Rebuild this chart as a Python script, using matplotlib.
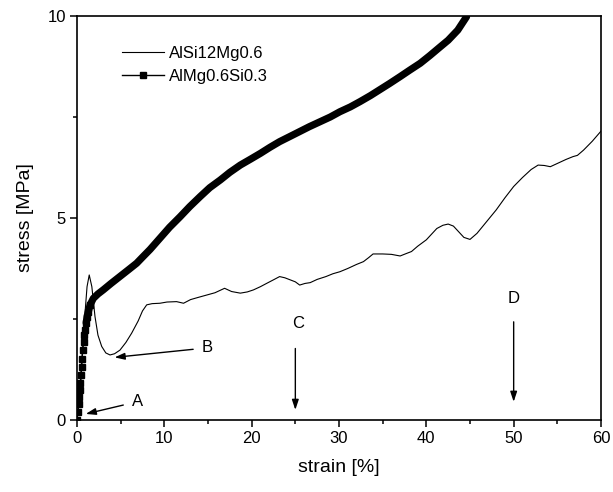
"""Stress-strain curves for two aluminium foams."""

import matplotlib
matplotlib.use("Agg")
import matplotlib.pyplot as plt
from matplotlib.ticker import MultipleLocator

plt.rcParams['font.family'] = ['Liberation Sans', 'DejaVu Sans']

# AlSi12Mg0.6 (thin line)
strain_alsi = [0, 0.3, 0.6, 0.9, 1.15, 1.4, 1.7, 2.06, 2.4, 2.83, 3.3, 3.78, 4.3, 4.92,
               5.6, 6.26, 7.0, 7.5, 7.98, 8.6, 9.5, 10.3, 11.4, 12.2, 13.0, 13.8, 14.8,
               15.8, 16.9, 17.7, 18.7, 19.5, 20.2, 21.0, 21.7, 22.5, 23.2, 23.8, 24.4,
               25.0, 25.5, 26.1, 26.7, 27.5, 28.5, 29.3, 30.1, 31.0, 32.0, 32.8, 33.4,
               33.9, 35.0, 36.0, 37.0, 37.7, 38.3, 39.0, 40.0, 40.6, 41.2, 41.9, 42.5,
               43.1, 43.7, 44.3, 45.0, 45.8, 46.9, 48.0, 49.0, 50.0, 51.0, 52.0, 52.8,
               53.5, 54.2, 55.0, 56.0, 56.8, 57.3, 58.0, 59.0, 60.0]
stress_alsi = [0, 0.5, 1.6, 2.6, 3.3, 3.59, 3.3, 2.56, 2.1, 1.82, 1.66, 1.61, 1.64, 1.73,
               1.92, 2.15, 2.45, 2.7, 2.85, 2.88, 2.89, 2.92, 2.93, 2.89, 2.98, 3.03, 3.09,
               3.15, 3.26, 3.18, 3.14, 3.17, 3.22, 3.3, 3.38, 3.47, 3.55, 3.52, 3.47,
               3.42, 3.34, 3.38, 3.40, 3.48, 3.55, 3.62, 3.67, 3.75, 3.85, 3.92, 4.02,
               4.11, 4.11, 4.10, 4.06, 4.12, 4.17, 4.3, 4.46, 4.6, 4.74, 4.82, 4.85,
               4.8, 4.66, 4.52, 4.47, 4.62, 4.91, 5.2, 5.5, 5.78, 6.0, 6.2, 6.31,
               6.30, 6.27, 6.35, 6.45, 6.52, 6.55, 6.68, 6.9, 7.15]

# AlMg0.6Si0.3 (thick line with squares)
strain_almg = [0, 0.1, 0.2, 0.27, 0.34, 0.4, 0.46, 0.52, 0.58, 0.65, 0.75, 0.85, 0.92,
               1.05, 1.15, 1.3, 1.5, 1.87, 2.4, 3.0, 3.9, 4.9, 5.9, 6.83, 7.5, 8.36, 9.5,
               10.6, 11.8, 12.9, 14.1, 15.2, 16.4, 17.5, 18.7, 19.9, 21.0, 22.1, 23.2,
               24.4, 25.5, 26.6, 27.8, 29.0, 30.1, 31.3, 32.4, 33.6, 34.7, 35.8, 37.0,
               38.1, 39.3, 40.4, 41.5, 42.5, 43.6, 44.6]
stress_almg = [0, 0.2, 0.4, 0.58, 0.74, 0.92, 1.12, 1.32, 1.52, 1.73, 1.93, 2.1, 2.23,
               2.4, 2.55, 2.68, 2.85, 3.01, 3.12, 3.22, 3.38, 3.55, 3.72, 3.88, 4.03, 4.22,
               4.5, 4.77, 5.03, 5.28, 5.53, 5.75, 5.94, 6.13, 6.31, 6.46, 6.6, 6.75, 6.89,
               7.02, 7.14, 7.26, 7.38, 7.5, 7.63, 7.75, 7.88, 8.03, 8.18, 8.33, 8.5,
               8.66, 8.83, 9.02, 9.22, 9.4, 9.65, 9.98]

# labels: (text, text position, arrow tail, arrow head)
marks = [
    ("A", (6.9, 0.45), (5.3, 0.37), (1.0, 0.15)),
    ("B", (14.9, 1.8), (13.3, 1.75), (4.3, 1.55)),
    ("C", (25.3, 2.4), (25.0, 1.77), (25.0, 0.25)),
    ("D", (50.0, 3.0), (50.0, 2.43), (50.0, 0.45)),
]

fig = plt.figure(figsize=(6.13, 4.92), dpi=100)
ax = fig.add_axes([77 / 613, 72 / 492, 524 / 613, 404 / 492])

ax.plot(strain_alsi, stress_alsi, color='black', lw=0.8, label='AlSi12Mg0.6')
# thick band once the squares merge together
ax.plot(strain_almg[13:], stress_almg[13:], color='black', lw=5.2,
        solid_capstyle='round', solid_joinstyle='round')
ax.plot(strain_almg, stress_almg, color='black', lw=1, marker='s', ms=4.5,
        markevery=slice(0, 17), label='AlMg0.6Si0.3')

for text, pos, tail, head in marks:
    ax.text(pos[0], pos[1], text, fontsize=12, ha='center', va='center')
    ax.annotate('', xy=head, xytext=tail,
                arrowprops=dict(arrowstyle='-|>,head_length=0.6,head_width=0.2',
                                color='black', lw=1, shrinkA=0, shrinkB=0))

ax.set_xlim(0, 60)
ax.set_ylim(0, 10)
ax.xaxis.set_major_locator(MultipleLocator(10))
ax.xaxis.set_minor_locator(MultipleLocator(5))
ax.yaxis.set_major_locator(MultipleLocator(5))
ax.yaxis.set_minor_locator(MultipleLocator(2.5))
ax.tick_params(which='both', direction='out', width=1.1, labelsize=12, pad=3)
ax.tick_params(which='major', length=5)
ax.tick_params(which='minor', length=3)
ax.tick_params(top=False, right=False, which='both')
for s in ax.spines.values():
    s.set_linewidth(1.2)

ax.set_xlabel('strain [%]', fontsize=14, labelpad=9)
ax.set_ylabel('stress [MPa]', fontsize=14, labelpad=10)

ax.legend(loc='upper left', bbox_to_anchor=(0.086, 0.925), frameon=False,
          fontsize=12, borderpad=0, borderaxespad=0, handlelength=2.5,
          handletextpad=0.3, labelspacing=0.45, numpoints=1)

plt.savefig('out.png', dpi=100)
plt.close()
